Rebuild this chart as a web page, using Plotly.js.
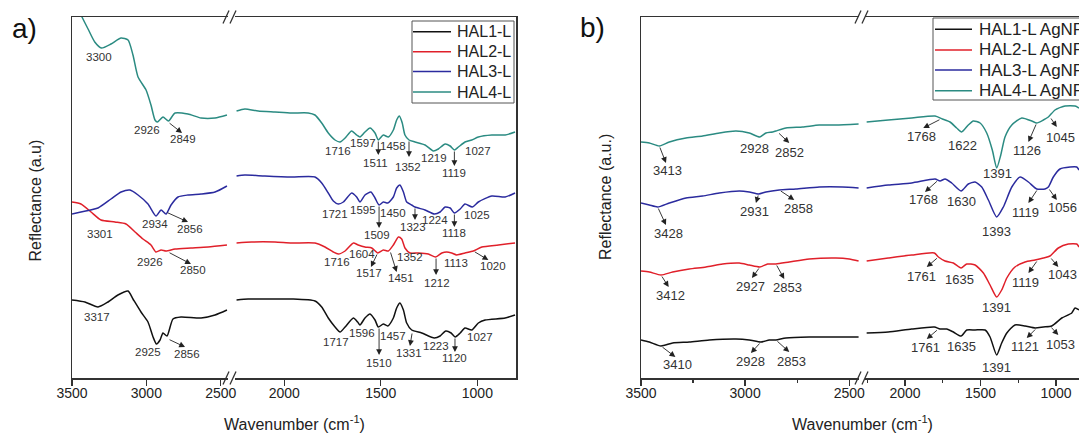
<!DOCTYPE html>
<html><head><meta charset="utf-8">
<script src="https://cdn.plot.ly/plotly-3.0.1.min.js"></script>
<style>html,body{margin:0;padding:0;background:#fff;} #chart{width:1079px;height:437px;}</style>
</head><body><div id="chart"></div>
<script>
// ---------- DATA (wavenumber in cm-1, reflectance in arbitrary units) ----------
const seriesA = ['HAL1-L', 'HAL2-L', 'HAL3-L', 'HAL4-L'];
const seriesB = ['HAL1-L AgNPs', 'HAL2-L AgNPs', 'HAL3-L AgNPs', 'HAL4-L AgNPs'];

// Panel a) HAL1-L
const wnA1 = [3500,3413,3325,3258,3191,3123,3090,3036,2989,2955,2932,2908,2888,2861,2821,2767,2632,2538,2458,
  2247,2187,2048,1962,1841,1806,1772,1737,1711,1685,1642,1620,1608,1582,1556,1530,1513,1487,1464,1435,1418,1401,1383,1366,1340,1288,1223,1193,1164,1136,1115,1089,1064,1029,995,960,856,805];
const rA1 = [78,76,71,76,83,87,79,66,56,41,34,38,45,42,59,61,60,63,68,
  78,79,79,79,77,71,60,51,46,51,60,56,53,60,64,58,51,54,52,60,70,75,68,55,48,45,40,42,47,45,41,45,50,48,55,58,60,63];
// Panel a) HAL2-L
const wnA2 = [3500,3440,3372,3305,3211,3137,3076,3023,2969,2935,2901,2868,2807,2700,2585,2458,
  2247,2169,2048,1962,1841,1789,1746,1720,1685,1642,1617,1582,1547,1516,1487,1461,1435,1409,1392,1375,1349,1306,1254,1216,1184,1159,1133,1107,1064,1021,977,891,805];
const rA2 = [176,174,166,158,156,154,146,139,133,126,128,127,129,130,131,133,
  135,136,136,135,135,131,126,124,127,135,133,131,130,125,128,127,133,141,139,130,125,125,124,121,125,126,125,123,125,127,131,133,135];
// Panel a) HAL3-L
const wnA3 = [3500,3440,3325,3238,3170,3110,3056,2989,2935,2901,2868,2834,2787,2720,2632,2538,2458,
  2247,2204,2100,1962,1841,1806,1772,1746,1720,1694,1651,1625,1608,1582,1551,1530,1509,1487,1464,1435,1418,1401,1383,1366,1340,1323,1271,1223,1193,1167,1141,1119,1089,1064,1026,995,925,856,805];
const rA3 = [164,166,170,179,186,188,183,174,162,168,164,173,181,183,184,186,192,
  202,203,202,201,201,195,185,177,174,176,185,181,176,183,186,180,173,176,175,181,190,193,186,176,173,171,168,164,166,171,170,165,169,174,171,176,182,181,185];
// Panel a) HAL4-L
const wnA4 = [3480,3433,3392,3347,3302,3238,3170,3123,3090,3056,3002,2969,2942,2926,2888,2851,2807,2720,2632,2538,2458,
  2247,2204,2135,2048,1962,1876,1841,1806,1772,1737,1711,1685,1651,1625,1608,1582,1556,1530,1513,1487,1461,1435,1418,1404,1389,1375,1354,1323,1271,1228,1202,1167,1141,1119,1098,1064,1029,995,925,856,805];
const rA4 = [375,361,349,336,330,334,340,338,323,301,288,273,258,256,261,257,265,264,260,260,263,
  267,269,267,266,265,265,263,255,245,238,236,240,247,243,241,246,250,245,238,243,241,248,258,262,255,243,238,236,233,227,229,234,232,228,231,236,238,241,243,243,246];

// Panel b) HAL1-L AgNPs
const wnB1 = [3500,3460,3404,3348,3268,3172,3044,2980,2924,2884,2852,2804,2692,2564,2455,
  2254,2111,1956,1806,1768,1724,1680,1629,1591,1536,1470,1437,1393,1360,1326,1272,1205,1139,1084,1029,962,896,874,848];
const rB1 = [38,36,32,35,36,38,39,38,36,38,38,40,41,41,41,
  45,46,49,51,49,49,46,42,48,48,48,41,23,35,45,53,52,50,51,52,60,65,70,68];
// Panel b) HAL2-L AgNPs
const wnB2 = [3500,3460,3404,3348,3268,3188,3108,3028,2980,2929,2892,2852,2788,2692,2564,2500,2455,
  2254,2111,1956,1806,1779,1735,1680,1629,1591,1536,1481,1437,1393,1360,1326,1272,1205,1139,1084,1040,985,919,863,848];
const rB2 = [107,106,103,106,109,111,114,115,113,111,114,114,116,119,120,119,117,
  117,120,123,125,121,117,115,110,114,113,105,93,81,88,100,111,116,118,120,122,130,134,134,131];
// Panel b) HAL3-L AgNPs
const wnB3 = [3500,3460,3420,3364,3284,3204,3124,3028,2980,2935,2900,2836,2756,2644,2532,2455,
  2254,2111,1956,1801,1768,1735,1691,1629,1581,1536,1492,1448,1393,1349,1293,1238,1183,1128,1073,1051,1018,974,907,863,848];
const rB3 = [175,173,171,175,180,182,185,187,186,184,186,188,189,191,191,190,
  190,193,195,199,197,199,195,187,194,196,191,178,161,171,191,201,196,189,189,191,201,209,211,211,208];
// Panel b) HAL4-L AgNPs
const wnB4 = [3500,3460,3412,3364,3284,3204,3124,3044,2980,2929,2900,2868,2852,2804,2724,2644,2564,2455,
  2254,2111,1956,1801,1753,1702,1658,1625,1581,1548,1503,1459,1422,1393,1366,1338,1293,1227,1161,1128,1084,1051,1007,940,874,848];
const rB4 = [236,235,232,236,240,242,245,247,245,241,245,246,247,250,251,253,253,254,
  256,258,260,262,259,256,250,246,253,257,255,245,228,210,223,241,253,260,257,255,258,261,268,272,272,270];

// Peak labels: [segment, text, wavenumber, reflectance]
const labelsA = [
 ['L','3300',3318,321],['L','2926',2996,248],['L','2849',2754,239],
 ['L','2934',2942,154],['L','2856',2706,149],['L','3301',3312,144],
 ['L','2926',2975,116],['L','2850',2686,108],
 ['L','3317',3332,61],['L','2925',2989,26],['L','2856',2727,24],
 ['R','1716',1720,227],['R','1597',1591,235],['R','1458',1435,232],['R','1511',1526,215],['R','1352',1361,211],
 ['R','1219',1224,220],['R','1119',1119,205],['R','1027',995,227],
 ['R','1721',1737,164],['R','1595',1591,168],['R','1450',1435,165],['R','1509',1521,143],['R','1323',1332,151],
 ['R','1224',1219,158],['R','1118',1119,145],['R','1025',1000,163],
 ['R','1716',1729,116],['R','1604',1599,124],['R','1352',1349,121],['R','1517',1561,105],['R','1451',1395,100],
 ['R','1212',1207,95],['R','1113',1110,115],['R','1020',920,112],
 ['R','1717',1732,36],['R','1596',1599,45],['R','1457',1435,42],['R','1510',1509,15],['R','1331',1352,25],
 ['R','1223',1216,32],['R','1120',1116,20],['R','1027',986,41]
];
// Arrows: [segment, tail wn, tail r, head wn, head r]
const arrowsA = [
 ['L',2854,256,2760,245],['L',2868,166,2720,156],['L',2854,126,2700,114],['L',2854,39,2740,31],
 ['R',1513,238,1513,223],['R',1354,238,1354,221],['R',1119,228,1119,212],
 ['R',1509,173,1509,150],['R',1323,171,1323,158],['R',1119,165,1119,151],
 ['R',1516,125,1551,111],['R',1452,127,1418,106],['R',1214,121,1214,103],['R',1021,127,943,118],
 ['R',1509,51,1509,23],['R',1337,46,1349,32],['R',1116,41,1116,26]
];
const labelsB = [
 ['L','3413',3375,208],['L','2928',2956,230],['L','2852',2785,226],
 ['L','3428',3369,145],['L','2931',2956,167],['L','2858',2743,170],
 ['L','3412',3359,83],['L','2927',2975,92],['L','2853',2796,91],
 ['L','3410',3324,14],['L','2928',2972,17],['L','2853',2776,17],
 ['R','1768',1889,242],['R','1622',1620,233],['R','1391',1386,205],['R','1126',1190,228],['R','1045',973,241],
 ['R','1768',1879,179],['R','1630',1629,177],['R','1393',1393,147],['R','1119',1199,166],['R','1056',958,171],
 ['R','1761',1889,102],['R','1635',1636,99],['R','1391',1393,71],['R','1119',1199,96],['R','1043',958,104],
 ['R','1761',1863,31],['R','1635',1624,32],['R','1391',1393,11],['R','1121',1205,32],['R','1053',973,34]
];
const arrowsB = [
 ['L',3412,232,3380,215],['L',2844,246,2788,235],
 ['L',3420,171,3380,153],['L',2935,184,2948,175],['L',2836,188,2764,178],
 ['L',3404,103,3367,91],['L',2929,111,2967,100],['L',2852,114,2812,99],
 ['L',3404,32,3335,21],['L',2924,36,2972,25],['L',2852,38,2788,26],
 ['R',1762,259,1879,250],['R',1128,255,1183,236],['R',1040,261,995,251],
 ['R',1779,198,1868,186],['R',1121,189,1183,175],['R',1051,190,995,178],
 ['R',1779,121,1856,111],['R',1121,118,1183,105],['R',1040,121,985,111],
 ['R',1779,49,1856,39],['R',1128,50,1194,40],['R',1040,52,985,43]
];

// ---------- STYLE / LAYOUT ----------
const W = 1079, H = 437;
const X = p => p / W, Y = p => 1 - p / H;
const colors = ['#111111', '#e0202a', '#2b2b9e', '#2b8b82'];
const FONT = 'Liberation Sans, Arial, Helvetica, sans-serif';
const AX = '#333333';
const BREAK = 2350;

const panels = [
  {names: seriesA, wn: [wnA1, wnA2, wnA3, wnA4], r: [rA1, rA2, rA3, rA4], L: ['x','y'], R: ['x2','y2'], labels: labelsA, arrows: arrowsA, fs: 11.5},
  {names: seriesB, wn: [wnB1, wnB2, wnB3, wnB4], r: [rB1, rB2, rB3, rB4], L: ['x3','y3'], R: ['x4','y4'], labels: labelsB, arrows: arrowsB, fs: 13}
];

const traces = [];
const annotations = [];
panels.forEach(p => {
  p.names.forEach((nm, i) => {
    const wn = p.wn[i], r = p.r[i];
    const li = wn.map((w, k) => k).filter(k => wn[k] > BREAK);
    const ri = wn.map((w, k) => k).filter(k => wn[k] < BREAK);
    [[li, p.L], [ri, p.R]].forEach(([idx, ax]) => {
      traces.push({
        type: 'scatter', mode: 'lines', name: nm, showlegend: false,
        x: idx.map(k => wn[k]), y: idx.map(k => r[k]),
        xaxis: ax[0], yaxis: ax[1],
        line: {color: colors[i], width: 1.5, shape: 'spline', smoothing: 0.6},
        hoverinfo: 'x+name'
      });
    });
  });
  p.labels.forEach(([seg, t, w, v]) => {
    const ax = seg === 'L' ? p.L : p.R;
    annotations.push({xref: ax[0], yref: ax[1], x: w, y: v, text: t, showarrow: false,
      xanchor: 'center', yanchor: 'middle', font: {family: FONT, size: p.fs, color: '#333'}});
  });
  p.arrows.forEach(([seg, w0, v0, w1, v1]) => {
    const ax = seg === 'L' ? p.L : p.R;
    annotations.push({xref: ax[0], yref: ax[1], x: w1, y: v1, axref: ax[0], ayref: ax[1], ax: w0, ay: v0,
      text: '', showarrow: true, arrowhead: 2, arrowsize: 1.3, arrowwidth: 0.9, arrowcolor: '#222',
      standoff: 0, startstandoff: 0});
  });
});

// Axis titles, panel letters
const txt = (x, y, t, size, extra) => Object.assign({xref: 'paper', yref: 'paper', x: X(x), y: Y(y), text: t,
  showarrow: false, xanchor: 'center', yanchor: 'middle', font: {family: FONT, size: size, color: '#222'}}, extra || {});
annotations.push(txt(294, 423, 'Wavenumber (cm<sup>-1</sup>)', 16));
annotations.push(txt(862, 423, 'Wavenumber (cm<sup>-1</sup>)', 16));
annotations.push(txt(35.5, 201, 'Reflectance (a.u)', 16, {textangle: -90}));
annotations.push(txt(605, 197, 'Reflectance (a.u.)', 16, {textangle: -90}));
annotations.push(txt(24, 28, 'a)', 28, {font: {family: FONT, size: 28, color: '#111'}}));
annotations.push(txt(592, 27, 'b)', 28, {font: {family: FONT, size: 28, color: '#111'}}));

// Legends (drawn manually, one per panel)
const shapes = [];
const legends = [
  {names: seriesA, box: [412, 21, 514, 103], line: [413, 451], tx: 455, rows: [31.7, 51.7, 71.5, 92], fs: 16},
  {names: seriesB, box: [933, 18, 1110, 100], line: [935, 972], tx: 977, rows: [29.3, 50, 70, 90.7], fs: 17}
];
legends.forEach(lg => {
  shapes.push({type: 'rect', xref: 'paper', yref: 'paper', x0: X(lg.box[0]), x1: X(lg.box[2]), y0: Y(lg.box[3]), y1: Y(lg.box[1]),
    line: {color: '#555', width: 1}, fillcolor: 'rgba(255,255,255,1)', layer: 'above'});
  lg.names.forEach((nm, i) => {
    shapes.push({type: 'line', xref: 'paper', yref: 'paper', x0: X(lg.line[0]), x1: X(lg.line[1]), y0: Y(lg.rows[i]), y1: Y(lg.rows[i]),
      line: {color: colors[i], width: 1.5}, layer: 'above'});
    annotations.push({xref: 'paper', yref: 'paper', x: X(lg.tx), y: Y(lg.rows[i]), text: nm, showarrow: false,
      xanchor: 'left', yanchor: 'middle', font: {family: FONT, size: lg.fs, color: '#222'}});
  });
});

// Axis-break marks "//"
[[226, 17], [226, 378], [233, 17], [233, 378], [858, 17], [858, 378], [865, 17], [865, 378]].forEach(([cx, cy]) => {
  shapes.push({type: 'line', xref: 'paper', yref: 'paper', x0: X(cx - 3), y0: Y(cy + 6.5), x1: X(cx + 3), y1: Y(cy - 6.5),
    line: {color: AX, width: 1.3}});
});

const yDom = [Y(378), Y(17)];
const baseX = {
  showline: true, linecolor: AX, linewidth: 1.5, mirror: true, showgrid: false, zeroline: false,
  ticks: 'outside', ticklen: 6, tickwidth: 1.3, tickcolor: AX, dtick: 500, tick0: 0,
  ticklabelstandoff: -4,
  tickfont: {family: FONT, size: 14, color: '#222'}
};
const minorB = {dtick: 250, tick0: 0, ticks: 'outside', ticklen: 3, tickwidth: 1.2, tickcolor: AX, showgrid: false};
const baseY = {domain: yDom, range: [0, 361], showticklabels: false, ticks: '', showgrid: false, zeroline: false,
  showline: true, linecolor: AX, linewidth: 1.5};

const layout = {
  width: W, height: H, margin: {l: 0, r: 0, t: 0, b: 0},
  paper_bgcolor: '#fff', plot_bgcolor: 'rgba(0,0,0,0)', showlegend: false,
  font: {family: FONT, color: '#222'},
  xaxis:  Object.assign({}, baseX, {domain: [X(72), X(228)], range: [3500, 2451], anchor: 'y'}),
  xaxis2: Object.assign({}, baseX, {domain: [X(235), X(516)], range: [2255, 800], anchor: 'y2'}),
  xaxis3: Object.assign({}, baseX, {domain: [X(641), X(859)], range: [3500, 2453], anchor: 'y3', minor: minorB}),
  xaxis4: Object.assign({}, baseX, {domain: [X(865), 1], range: [2265, 848], anchor: 'y4', minor: minorB}),
  yaxis:  Object.assign({}, baseY, {anchor: 'x', side: 'left'}),
  yaxis2: Object.assign({}, baseY, {anchor: 'x2', side: 'right'}),
  yaxis3: Object.assign({}, baseY, {anchor: 'x3', side: 'left'}),
  yaxis4: Object.assign({}, baseY, {anchor: 'x4', side: 'right', showline: false}),
  annotations: annotations, shapes: shapes
};

Plotly.newPlot('chart', traces, layout, {displayModeBar: false, staticPlot: true});
</script></body></html>
